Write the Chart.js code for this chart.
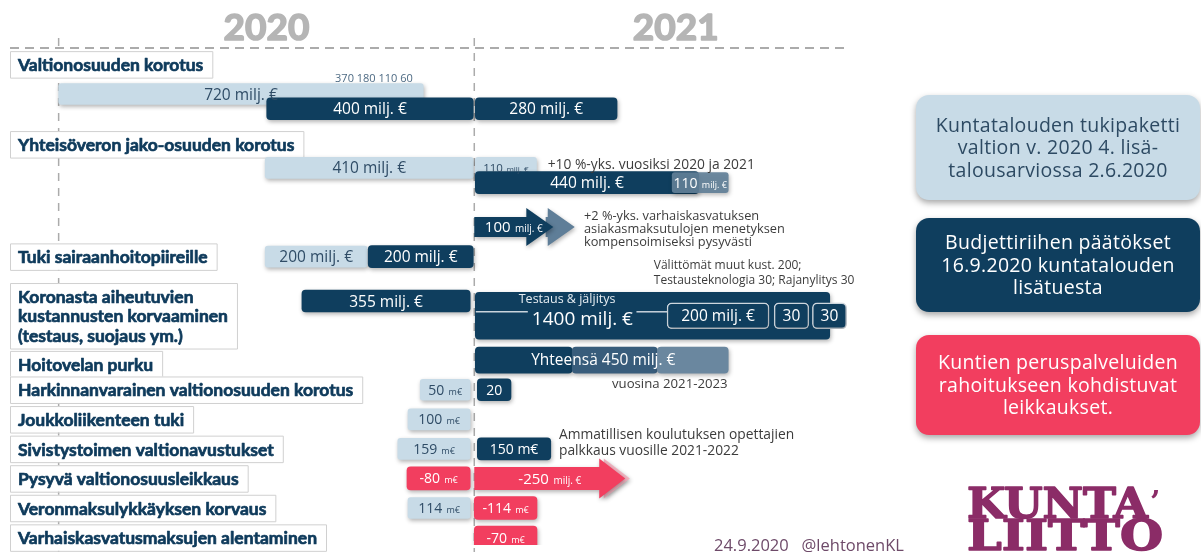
<!DOCTYPE html>
<html lang="fi">
<head>
<meta charset="utf-8">
<title>Kuntatalouden tukipaketti 2020–2021</title>
<script src="https://cdn.jsdelivr.net/npm/chart.js@4.4.1/dist/chart.umd.min.js"></script>
<style>
  html, body { margin: 0; padding: 0; background: #fff; }
  canvas { display: block; }
</style>
</head>
<body>
<canvas id="tukiChart" width="1201" height="552"></canvas>
<script>
// thin rows of the slide, top to bottom ('' = spacer row)
const lanes = [
  'Valtionosuuden korotus', 'vos-huom', 'vos-lisa', 'vos-riihi', '',
  'Yhteisöveron jako-osuuden korotus', '', 'yht-lisa', 'yht-riihi', '', '',
  'yht-varhaiskasvatus', '', 'Tuki sairaanhoitopiireille', 'korona-huom', '',
  'korona-2020', 'Koronasta aiheutuvien kustannusten korvaaminen', '', '',
  'Hoitovelan purku', 'hoito-huom', 'Harkinnanvarainen valtionosuuden korotus', '',
  'Joukkoliikenteen tuki', '', 'Sivistystoimen valtionavustukset', '',
  'Pysyvä valtionosuusleikkaus', '', 'Veronmaksulykkäyksen korvaus', '',
  'Varhaiskasvatusmaksujen alentaminen'
];

// x = milj. € measured from the turn of the year 2020/2021 (read off the slide)
// lisätalousarvio 2.6.2020
const lisaLane = ['vos-lisa', 'yht-lisa', 'yht-lisa', 'Tuki sairaanhoitopiireille',
  'Harkinnanvarainen valtionosuuden korotus', 'Joukkoliikenteen tuki',
  'Sivistystoimen valtionavustukset', 'Veronmaksulykkäyksen korvaus'];
const lisaFrom = [-815, -410, 2, -410, -106, -130, -150, -130];
const lisaTo   = [-100, -2, 122, -210, -8, -8, -8, -8];
const lisaText = ['720 milj. €', '410 milj. €', ['110', 'milj. €'], '200 milj. €',
  ['50', 'm€'], ['100', 'm€'], ['159', 'm€'], ['114', 'm€']];

// budjettiriihi 16.9.2020
const riihiLane = ['vos-riihi', 'vos-riihi', 'yht-riihi', 'Tuki sairaanhoitopiireille',
  'korona-2020', 'Harkinnanvarainen valtionosuuden korotus', 'Sivistystoimen valtionavustukset'];
const riihiFrom = [-407, 2, 2, -208, -338, 6, 6];
const riihiTo   = [-2, 280, 440, -2, -8, 72, 150];
const riihiText = ['400 milj. €', '280 milj. €', '440 milj. €', '200 milj. €', '355 milj. €', '20', '150 m€'];

const jatkoLane = ['yht-riihi'];
const jatkoFrom = [388];
const jatkoTo   = [498];
const jatkoText = [['110', 'milj. €']];

const hoitoFrom = [2, 192, 359];
const hoitoTo   = [192, 359, 498];

const koronaFrom = [2];
const koronaTo   = [697];
const osaFrom = [378, 588, 663];
const osaTo   = [578, 656, 730];
const osaText = ['200 milj. €', '30', '30'];

const vakaFrom = [140, 0];
const vakaTo   = [197, 155];
const vakaText = ['', ['100', 'milj. €']];

// leikkaukset
const leikLane = ['Pysyvä valtionosuusleikkaus', 'Veronmaksulykkäyksen korvaus', 'Varhaiskasvatusmaksujen alentaminen'];
const leikFrom = [-132, 0, 0];
const leikTo   = [-8, 123, 123];
const leikText = [['-80', 'm€'], ['-114', 'm€'], ['-70', 'm€']];
const pysyvaFrom = [255, 0];
const pysyvaTo   = [305, 296];
const pysyvaText = ['', ['-250', 'milj. €']];

const yearLabels = ['2020', '2021'];
const yearMarks = [-815, 0, 790];

const titleLanes = ['Valtionosuuden korotus', 'Yhteisöveron jako-osuuden korotus', 'Tuki sairaanhoitopiireille',
  'Koronasta aiheutuvien kustannusten korvaaminen', 'Hoitovelan purku', 'Harkinnanvarainen valtionosuuden korotus',
  'Joukkoliikenteen tuki', 'Sivistystoimen valtionavustukset', 'Pysyvä valtionosuusleikkaus',
  'Veronmaksulykkäyksen korvaus', 'Varhaiskasvatusmaksujen alentaminen'];
const titleLines = [['Valtionosuuden korotus'], ['Yhteisöveron jako-osuuden korotus'], ['Tuki sairaanhoitopiireille'],
  ['Koronasta aiheutuvien', 'kustannusten korvaaminen', '(testaus, suojaus ym.)'], ['Hoitovelan purku'],
  ['Harkinnanvarainen valtionosuuden korotus'], ['Joukkoliikenteen tuki'], ['Sivistystoimen valtionavustukset'],
  ['Pysyvä valtionosuusleikkaus'], ['Veronmaksulykkäyksen korvaus'], ['Varhaiskasvatusmaksujen alentaminen']];

const legendLines = [
  ['Kuntatalouden tukipaketti', 'valtion v. 2020 4. lisä-', 'talousarviossa 2.6.2020'],
  ['Budjettiriihen päätökset', '16.9.2020 kuntatalouden', 'lisätuesta'],
  ['Kuntien peruspalveluiden', 'rahoitukseen kohdistuvat', 'leikkaukset.']
];

const LIGHT = '#c8dbe7', DARK = '#0f3e5e', SLATE = '#6a879f', RED = '#f23e5f';
const FONT = '"Open Sans", "Noto Sans", sans-serif';
const HEAVY = 'Lato, "Open Sans", sans-serif';

function bars(laneArr, from, to) {
  return from.map((f, i) => ({ y: Array.isArray(laneArr) ? laneArr[i] : laneArr, x: [f, to[i]] }));
}

const datasets = [
  { label: 'Lisätalousarvio 2.6.2020', data: bars(lisaLane, lisaFrom, lisaTo), backgroundColor: LIGHT,
    barThickness: 21, borderRadius: 3, texts: lisaText, textColor: '#2f4c66', textSize: 15.5,
    textSizes: [15.5, 15.5, 11.5, 15.5, 14, 14, 14, 14] },
  { label: 'Budjettiriihi 16.9.2020', data: bars(riihiLane, riihiFrom, riihiTo), backgroundColor: DARK,
    barThickness: 22, borderRadius: 4, texts: riihiText, textColor: '#fff', textSize: 15.5,
    textSizes: [15.5, 15.5, 15.5, 15.5, 15.5, 14, 14] },
  { label: 'jatko', data: bars(jatkoLane, jatkoFrom, jatkoTo), backgroundColor: 'rgba(98,128,152,0.92)',
    barThickness: 20, borderRadius: 3, texts: jatkoText, textColor: '#fff', textSize: 14 },
  { label: 'hoitovelka', data: bars('Hoitovelan purku', hoitoFrom, hoitoTo),
    backgroundColor: [DARK, '#385c7b', SLATE], barThickness: 26, borderRadius: 4 },
  { label: 'korona 2021', data: bars('Koronasta aiheutuvien kustannusten korvaaminen', koronaFrom, koronaTo),
    backgroundColor: DARK, barThickness: 47, borderRadius: 4 },
  { label: 'korona osat', data: bars('Koronasta aiheutuvien kustannusten korvaaminen', osaFrom, osaTo),
    backgroundColor: DARK, borderColor: '#d5dee6', borderWidth: 1.5, barThickness: 26, borderRadius: 5,
    texts: osaText, textColor: '#fff', textSize: 15.5 },
  { label: 'varhaiskasvatus', data: bars('yht-varhaiskasvatus', vakaFrom, vakaTo), backgroundColor: 'rgba(0,0,0,0)',
    barThickness: 20, arrow: { colors: ['#5f7e98', DARK], head: 27, headHeight: 38 },
    texts: vakaText, textColor: '#fff', textSize: 15 },
  { label: 'Leikkaukset', data: bars(leikLane, leikFrom, leikTo), backgroundColor: RED,
    barThickness: 23, borderRadius: 4, texts: leikText, textColor: '#fff', textSize: 14 },
  { label: 'pysyvä leikkaus', data: bars('Pysyvä valtionosuusleikkaus', pysyvaFrom, pysyvaTo), backgroundColor: 'rgba(0,0,0,0)',
    barThickness: 23, arrow: { colors: ['#f2b3c0', RED], head: 26, headHeight: 40 },
    texts: pysyvaText, textColor: '#fff', textSize: 15 }
];
datasets.forEach((d, i) => { d.order = datasets.length - i; });

const notes = [
  { lane: 'vos-huom', x: -273, dy: 0, lines: ['370 180 110 60'], size: 11, color: '#4d6a83' },
  { lane: 'yht-lisa', x: 144, dy: -3, lines: ['+10 %-yks. vuosiksi 2020 ja 2021'], size: 13.8, color: '#3c3c3c' },
  { lane: 'yht-varhaiskasvatus', x: 215, dy: 2, gap: 13, size: 12.8, color: '#3c3c3c',
    lines: ['+2 %-yks. varhaiskasvatuksen', 'asiakasmaksutulojen menetyksen', 'kompensoimiseksi pysyvästi'] },
  { lane: 'korona-huom', x: 352, dy: 2, gap: 15, size: 12, color: '#3c3c3c',
    lines: ['Välittömät muut kust. 200;', 'Testausteknologia 30; Rajanylitys 30'] },
  { lane: 'Koronasta aiheutuvien kustannusten korvaaminen', x: 182, dy: -16, lines: ['Testaus & jäljitys'],
    size: 12.5, color: '#e6edf2', align: 'center' },
  { lane: 'Koronasta aiheutuvien kustannusten korvaaminen', x: 212, dy: 4, lines: ['1400 milj. €'],
    size: 19, color: '#fff', align: 'center' },
  { lane: 'Hoitovelan purku', x: 253, dy: 0, lines: ['Yhteensä 450 milj. €'], size: 15.5, color: '#fff', align: 'center' },
  { lane: 'hoito-huom', x: 270, dy: 9, lines: ['vuosina 2021-2023'], size: 13.2, color: '#3c3c3c' },
  { lane: 'Sivistystoimen valtionavustukset', x: 166, dy: -6, gap: 16, size: 13.8, color: '#3c3c3c',
    lines: ['Ammatillisen koulutuksen opettajien', 'palkkaus vuosille 2021-2022'] }
];
// separator inside the 1400 milj. € bar
const rules = [[3, 105], [318, 378]];

function laneY(chart, lane) {
  return chart.scales.y.getPixelForValue(lanes.indexOf(lane));
}

function valueText(ctx, spec, cx, cy, color, size) {
  const parts = Array.isArray(spec) ? spec : [spec];
  const big = parts[0], small = parts[1] || '';
  const sSize = Math.round(size * 0.66);
  const gap = size * 0.3;
  ctx.font = `500 ${size}px ${FONT}`;
  const wb = ctx.measureText(big).width;
  ctx.font = `500 ${sSize}px ${FONT}`;
  const ws = small ? ctx.measureText(small).width + gap : 0;
  const left = cx - (wb + ws) / 2;
  const base = cy + size * 0.36;
  ctx.fillStyle = color;
  ctx.textAlign = 'left';
  ctx.textBaseline = 'alphabetic';
  ctx.font = `500 ${size}px ${FONT}`;
  ctx.fillText(big, left, base);
  if (small) {
    ctx.font = `500 ${sSize}px ${FONT}`;
    ctx.fillText(small, left + wb + gap, base);
  }
}

// heavy text: fill plus a thin stroke of the same colour
function heavyText(ctx, text, x, y, stroke) {
  ctx.lineWidth = stroke;
  ctx.lineJoin = 'round';
  ctx.strokeStyle = ctx.fillStyle;
  ctx.strokeText(text, x, y);
  ctx.fillText(text, x, y);
}

const titleNudge = { 'Yhteisöveron jako-osuuden korotus': 6, 'Hoitovelan purku': 4 };

const slidePlugin = {
  id: 'slide',
  beforeDatasetsDraw(chart) {
    const { ctx, chartArea, scales: { x } } = chart;
    ctx.save();
    // dashed year guides
    ctx.strokeStyle = '#ababab';
    ctx.lineWidth = 2;
    ctx.setLineDash([9, 6]);
    const lineY = chartArea.top - 9;
    ctx.beginPath();
    ctx.moveTo(10, lineY);
    ctx.lineTo(x.getPixelForValue(727), lineY);
    ctx.stroke();
    ctx.lineWidth = 1.5;
    ctx.setLineDash([8, 7]);
    yearMarks.slice(0, 2).forEach(v => {
      const px = x.getPixelForValue(v);
      ctx.beginPath();
      ctx.moveTo(px, 38);
      ctx.lineTo(px, chart.height);
      ctx.stroke();
    });
    ctx.setLineDash([]);
    // year headings
    ctx.fillStyle = '#b5b5b5';
    ctx.font = `bold 37px ${HEAVY}`;
    ctx.textAlign = 'center';
    ctx.textBaseline = 'alphabetic';
    yearLabels.forEach((t, i) => {
      const cx = (x.getPixelForValue(yearMarks[i]) + x.getPixelForValue(yearMarks[i + 1])) / 2;
      heavyText(ctx, t, cx, 40, 1.6);
    });
    // row titles
    titleLanes.forEach((lane, i) => {
      const lines = titleLines[i];
      const cy = laneY(chart, lane) + (titleNudge[lane] || 0);
      ctx.font = `bold 17.5px ${HEAVY}`;
      const w = Math.max(...lines.map(l => ctx.measureText(l).width)) + 17;
      const h = lines.length * 19.5 + 7;
      ctx.fillStyle = '#fff';
      ctx.fillRect(10, cy - h / 2, w, h);
      ctx.strokeStyle = '#d0d0d0';
      ctx.lineWidth = 1;
      ctx.strokeRect(10.5, cy - h / 2 + 0.5, w, h);
      ctx.fillStyle = '#0e3a5b';
      ctx.textAlign = 'left';
      ctx.textBaseline = 'middle';
      lines.forEach((l, j) => heavyText(ctx, l, 18, cy + (j - (lines.length - 1) / 2) * 19.5 + 1, 0.7));
    });
    ctx.restore();
  },
  beforeDatasetDraw(chart) {
    const ctx = chart.ctx;
    ctx.save();
    ctx.shadowColor = 'rgba(0,0,0,0.3)';
    ctx.shadowBlur = 4;
    ctx.shadowOffsetX = 1;
    ctx.shadowOffsetY = 2;
  },
  afterDatasetDraw(chart, args) {
    const ctx = chart.ctx;
    const ds = chart.data.datasets[args.index];
    if (ds.arrow) {
      args.meta.data.forEach((el, i) => {
        const { x: tip, base, y: cy, height } = el.getProps(['x', 'base', 'y', 'height'], true);
        const neck = tip - ds.arrow.head;
        const hh = ds.arrow.headHeight / 2;
        ctx.fillStyle = ds.arrow.colors[i];
        ctx.beginPath();
        ctx.moveTo(base, cy - height / 2);
        ctx.lineTo(neck, cy - height / 2);
        ctx.lineTo(neck, cy - hh);
        ctx.lineTo(tip, cy);
        ctx.lineTo(neck, cy + hh);
        ctx.lineTo(neck, cy + height / 2);
        ctx.lineTo(base, cy + height / 2);
        ctx.closePath();
        ctx.fill();
      });
    }
    ctx.restore();
  },
  afterDatasetsDraw(chart) {
    const { ctx, scales: { x } } = chart;
    ctx.save();
    chart.data.datasets.forEach((ds, i) => {
      if (!ds.texts) return;
      chart.getDatasetMeta(i).data.forEach((el, j) => {
        if (!ds.texts[j]) return;
        const { x: ex, base, y: cy } = el.getProps(['x', 'base', 'y'], true);
        const size = ds.textSizes && ds.textSizes[j] ? ds.textSizes[j] : ds.textSize;
        valueText(ctx, ds.texts[j], (ex + base) / 2, cy, ds.textColor, size);
      });
    });
    // separator in the testing bar
    const ry = laneY(chart, 'Koronasta aiheutuvien kustannusten korvaaminen') - 4;
    ctx.strokeStyle = '#c9d3dc';
    ctx.lineWidth = 1.5;
    rules.forEach(([a, b]) => {
      ctx.beginPath();
      ctx.moveTo(x.getPixelForValue(a), ry);
      ctx.lineTo(x.getPixelForValue(b), ry);
      ctx.stroke();
    });
    notes.forEach(n => {
      const gap = n.gap || n.size * 1.25;
      const cy = laneY(chart, n.lane) + n.dy;
      ctx.font = `${n.size}px ${FONT}`;
      ctx.fillStyle = n.color;
      ctx.textAlign = n.align || 'left';
      ctx.textBaseline = 'middle';
      n.lines.forEach((l, j) => ctx.fillText(l, x.getPixelForValue(n.x), cy + (j - (n.lines.length - 1) / 2) * gap));
    });
    ctx.restore();
  },
  afterDraw(chart) {
    const ctx = chart.ctx;
    ctx.save();
    // legend boxes on the right
    const boxes = [
      { top: 95, h: 105, fill: LIGHT, color: '#2d4a63' },
      { top: 218, h: 94, fill: DARK, color: '#fff' },
      { top: 335, h: 100, fill: RED, color: '#fff' }
    ];
    boxes.forEach((b, i) => {
      ctx.shadowColor = 'rgba(0,0,0,0.35)';
      ctx.shadowBlur = 6;
      ctx.shadowOffsetY = 3;
      ctx.fillStyle = b.fill;
      ctx.beginPath();
      ctx.roundRect(916, b.top, 284, b.h, 13);
      ctx.fill();
      ctx.shadowColor = 'transparent';
      ctx.fillStyle = b.color;
      ctx.font = `19.5px ${FONT}`;
      ctx.letterSpacing = '0.3px';
      ctx.textAlign = 'center';
      ctx.textBaseline = 'middle';
      const cy = b.top + b.h / 2 + 1;
      legendLines[i].forEach((l, j) => ctx.fillText(l, 1058, cy + (j - 1) * 22.5));
      ctx.letterSpacing = '0px';
    });
    // footer
    ctx.fillStyle = '#6e4a69';
    ctx.font = `16.5px ${FONT}`;
    ctx.textAlign = 'left';
    ctx.textBaseline = 'alphabetic';
    ctx.fillText('24.9.2020   @lehtonenKL', 714, 551);
    // Kuntaliitto wordmark
    ctx.fillStyle = '#8b2c67';
    const fit = (t, x0, y0, w, font) => {
      ctx.font = font;
      const mw = ctx.measureText(t).width;
      ctx.save();
      ctx.translate(x0, y0);
      ctx.scale(w / mw, 1);
      heavyText(ctx, t, 0, 0, 1.5);
      ctx.restore();
    };
    fit('KUNTA', 967, 518, 181, 'bold 42px "DejaVu Serif", serif');
    fit('LIITTO', 967, 550, 196, 'bold 42px "DejaVu Serif", serif');
    ctx.font = 'bold 30px "DejaVu Serif", serif';
    ctx.fillText('’', 1150, 512);
    ctx.restore();
  }
};

new Chart(document.getElementById('tukiChart'), {
  type: 'bar',
  data: { labels: lanes, datasets: datasets },
  options: {
    indexAxis: 'y',
    responsive: false,
    animation: false,
    devicePixelRatio: 1,
    layout: { padding: { top: 57, bottom: 7, left: 0, right: 0 } },
    datasets: { bar: { grouped: false, borderSkipped: false } },
    scales: {
      x: { type: 'linear', min: -930, max: 1425, display: false },
      y: { type: 'category', display: false, offset: true }
    },
    plugins: {
      legend: { display: false },
      tooltip: { enabled: false }
    }
  },
  plugins: [slidePlugin]
});
</script>
</body>
</html>
